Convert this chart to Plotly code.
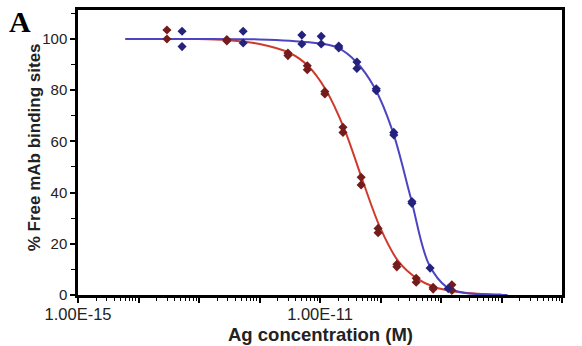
import plotly.graph_objects as go

# ---- data (log10 of Ag concentration in M, % free mAb binding sites) ----
red_pts_logx = [-13.53, -13.53, -12.54, -12.54, -11.53, -11.53, -11.21, -11.21,
                -10.92, -10.92, -10.62, -10.62, -10.32, -10.32, -10.04, -10.04,
                -9.73, -9.73, -9.41, -9.41, -9.13, -9.13, -8.82, -8.82]
red_pts_y = [103.5, 100.0, 99.8, 99.2, 94.5, 93.5, 89.5, 88.0,
             79.5, 78.5, 65.5, 63.5, 46.0, 43.0, 26.0, 24.3,
             12.0, 11.0, 6.5, 5.0, 3.0, 2.3, 4.0, 1.8]

blue_pts_logx = [-13.28, -13.28, -12.27, -12.27, -11.30, -11.30, -10.98, -10.98,
                 -10.69, -10.69, -10.39, -10.39, -10.07, -10.07, -9.78, -9.78,
                 -9.48, -9.48, -9.18, -8.88]
blue_pts_y = [103.0, 97.0, 103.0, 98.4, 101.5, 98.0, 101.0, 98.0,
              97.2, 96.5, 91.0, 88.5, 80.5, 79.8, 63.5, 62.5,
              36.5, 35.8, 10.5, 2.5]

red_curve_logx = [-13.02, -12.5, -12.0, -11.5, -11.2, -10.9, -10.6, -10.3,
                  -10.0, -9.7, -9.4, -9.1, -8.8, -8.4, -8.0]
red_curve_y = [100.0, 99.5, 98.0, 94.5, 89.5, 80.0, 65.0, 45.0,
               26.0, 13.0, 6.5, 3.0, 1.5, 0.5, 0.2]

blue_curve_logx = [-14.22, -13.0, -12.0, -11.5, -11.0, -10.7, -10.4, -10.1,
                   -9.8, -9.5, -9.2, -8.9, -8.6, -8.2, -7.9]
blue_curve_y = [100.0, 100.0, 99.8, 99.3, 98.2, 96.5, 91.0, 81.0,
                64.0, 38.0, 12.0, 3.0, 0.8, 0.2, 0.0]

x_tick_exps = list(range(-15, -6))
x_tick_labels = ["1.00E-15", "", "", "", "1.00E-11", "", "", "", "1.00E-07"]
y_tick_vals = [0, 20, 40, 60, 80, 100]


def to_m(exps):
    return [10 ** e for e in exps]


RED_LINE = "#cf3a2c"
BLUE_LINE = "#4c45c2"
RED_MARK = "#741b1b"
BLUE_MARK = "#25227d"

fig = go.Figure()
fig.add_trace(go.Scatter(x=to_m(red_curve_logx), y=red_curve_y, mode="lines",
                         line=dict(color=RED_LINE, width=2, shape="spline", smoothing=1.0),
                         hoverinfo="skip"))
fig.add_trace(go.Scatter(x=to_m(blue_curve_logx), y=blue_curve_y, mode="lines",
                         line=dict(color=BLUE_LINE, width=2, shape="spline", smoothing=1.0),
                         hoverinfo="skip"))
fig.add_trace(go.Scatter(x=to_m(red_pts_logx), y=red_pts_y, mode="markers",
                         marker=dict(symbol="diamond", size=7, color=RED_MARK)))
fig.add_trace(go.Scatter(x=to_m(blue_pts_logx), y=blue_pts_y, mode="markers",
                         marker=dict(symbol="diamond", size=7, color=BLUE_MARK)))

font_family = "Liberation Sans, Arial, sans-serif"

fig.update_layout(
    width=582, height=346,
    margin=dict(l=78, r=20, t=10, b=51),
    paper_bgcolor="white", plot_bgcolor="white",
    showlegend=False,
    font=dict(family=font_family, size=15, color="#222222"),
    xaxis=dict(
        type="log", range=[-15, -7], automargin=False,
        tickmode="array", tickvals=to_m(x_tick_exps), ticktext=x_tick_labels,
        ticks="outside", ticklen=5, tickwidth=1.5, tickcolor="black",
        ticklabelstandoff=-3,
        minor=dict(ticks="outside", ticklen=3, tickwidth=1.2, tickcolor="black",
                   dtick="D1", showgrid=False),
        showgrid=False, zeroline=False,
        showline=True, linecolor="black", linewidth=2.5, mirror=True,
        tickfont=dict(size=16.5),
    ),
    yaxis=dict(
        range=[0, 111.3], automargin=False,
        tickmode="array", tickvals=y_tick_vals,
        ticks="outside", ticklen=5, tickwidth=1.5, tickcolor="black",
        minor=dict(ticks="outside", ticklen=4, tickwidth=1.2, tickcolor="black",
                   dtick=10, showgrid=False),
        showgrid=False, zeroline=False,
        showline=True, linecolor="black", linewidth=2.5, mirror=True,
        tickfont=dict(size=15),
    ),
    annotations=[
        dict(text="<b>A</b>", xref="paper", yref="paper",
             x=-0.12, y=0.958, xanchor="center", yanchor="middle",
             showarrow=False,
             font=dict(family="Liberation Serif, Times New Roman, serif",
                       size=30, color="black")),
        dict(text="<b>Ag concentration (M)</b>", xref="paper", yref="paper",
             x=0.5, y=-0.137, xanchor="center", yanchor="middle",
             showarrow=False, font=dict(size=18.5, color="#222222")),
        dict(text="<b>% Free mAb binding sites</b>", xref="paper", yref="paper",
             x=-0.09, y=0.52, xanchor="center", yanchor="middle", textangle=-90,
             showarrow=False, font=dict(size=17, color="#222222")),
    ],
)

fig.write_html("out.html")
